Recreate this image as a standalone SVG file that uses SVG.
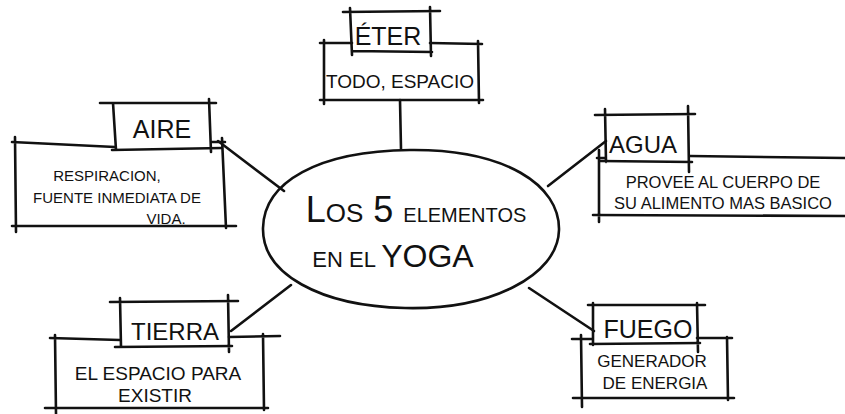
<svg xmlns="http://www.w3.org/2000/svg" width="845" height="414" viewBox="0 0 845 414">
<style>
.ink{stroke:#111;stroke-width:2.6;fill:none;stroke-linecap:round}
text{font-family:"Liberation Sans","DejaVu Sans",sans-serif;fill:#111;text-anchor:middle}
.t{font-size:25px}
.b{font-size:17px}
</style>
<rect width="845" height="414" fill="#fff"/>
<g id="connectors">
<path class="ink" d="M400 100 L401 149"/>
<path class="ink" d="M218 141 L284 191"/>
<path class="ink" d="M548 186 L606 141"/>
<path class="ink" d="M291 285 L231 331"/>
<path class="ink" d="M529 288 L594 331"/>
</g>
<g id="center">
<path class="ink" d="M410 150 C505 149 560 185 559 230 C558 276 490 310 405 308 C320 306 262 274 263 228 C264 182 318 151 410 150 Z"/>
<text x="416" y="222" style="font-size:36px">L<tspan style="font-size:26px">OS</tspan> 5 <tspan style="font-size:20px">ELEMENTOS</tspan></text>
<text x="393" y="267" style="font-size:22px">EN EL <tspan style="font-size:32px">YOGA</tspan></text>
</g>
<g id="eter">
<path class="ink" d="M343 12 L440 11 M350 8 L352 55 M430 7 L431 56 M352 51 L432 52"/>
<path class="ink" d="M320 43 L352 43 M430 43 L482 44 M324 40 L324 104 M478 41 L479 103 M320 100 L483 100"/>
<text class="t" x="388" y="45">ÉTER</text>
<text class="b" x="400" y="88" style="font-size:19px">TODO, ESPACIO</text>
</g>
<g id="aire">
<path class="ink" d="M100 103 L216 103 M113 103 L116 150 M209 99 L211 152 M112 150 L222 148"/>
<path class="ink" d="M12 142 L115 147 M212 142 L225 142 M15 137 L16 232 M222 138 L226 228 M12 226 L236 226"/>
<text class="t" x="162" y="138">AIRE</text>
<text class="b" x="107" y="181" style="font-size:15px">RESPIRACION,</text>
<text class="b" x="117" y="203" style="font-size:15px">FUENTE INMEDIATA DE</text>
<text class="b" x="166" y="224" style="font-size:15px">VIDA.</text>
</g>
<g id="agua">
<path class="ink" d="M595 115 L695 114 M605 109 L606 162 M688 106 L689 172 M600 161 L692 162"/>
<path class="ink" d="M690 156 L845 158 M597 158 L605 158 M599 150 L599 222 M593 215 L845 216"/>
<text class="t" x="643" y="153" style="font-size:24px">AGUA</text>
<text class="b" x="723" y="188" style="font-size:16.5px">PROVEE AL CUERPO DE</text>
<text class="b" x="723" y="209" style="font-size:16.5px">SU ALIMENTO MAS BASICO</text>
</g>
<g id="tierra">
<path class="ink" d="M110 302 L238 301 M120 298 L121 347 M228 295 L229 352 M115 347 L232 346"/>
<path class="ink" d="M50 338 L120 340 M229 337 L280 336 M55 335 L56 414 M263 334 L264 410 M45 408 L268 408"/>
<text class="t" x="175" y="340" style="font-size:24px">TIERRA</text>
<text class="b" x="158" y="380" style="font-size:19px">EL ESPACIO PARA</text>
<text class="b" x="155" y="402" style="font-size:19px">EXISTIR</text>
</g>
<g id="fuego">
<path class="ink" d="M588 305 L705 305 M593 303 L593 345 M697 303 L698 352 M590 344 L700 343"/>
<path class="ink" d="M572 339 L592 339 M697 338 L732 338 M581 335 L582 407 M727 337 L728 400 M573 398 L734 398"/>
<text class="t" x="648" y="338">FUEGO</text>
<text class="b" x="652" y="367">GENERADOR</text>
<text class="b" x="655" y="389">DE ENERGIA</text>
</g>
</svg>
